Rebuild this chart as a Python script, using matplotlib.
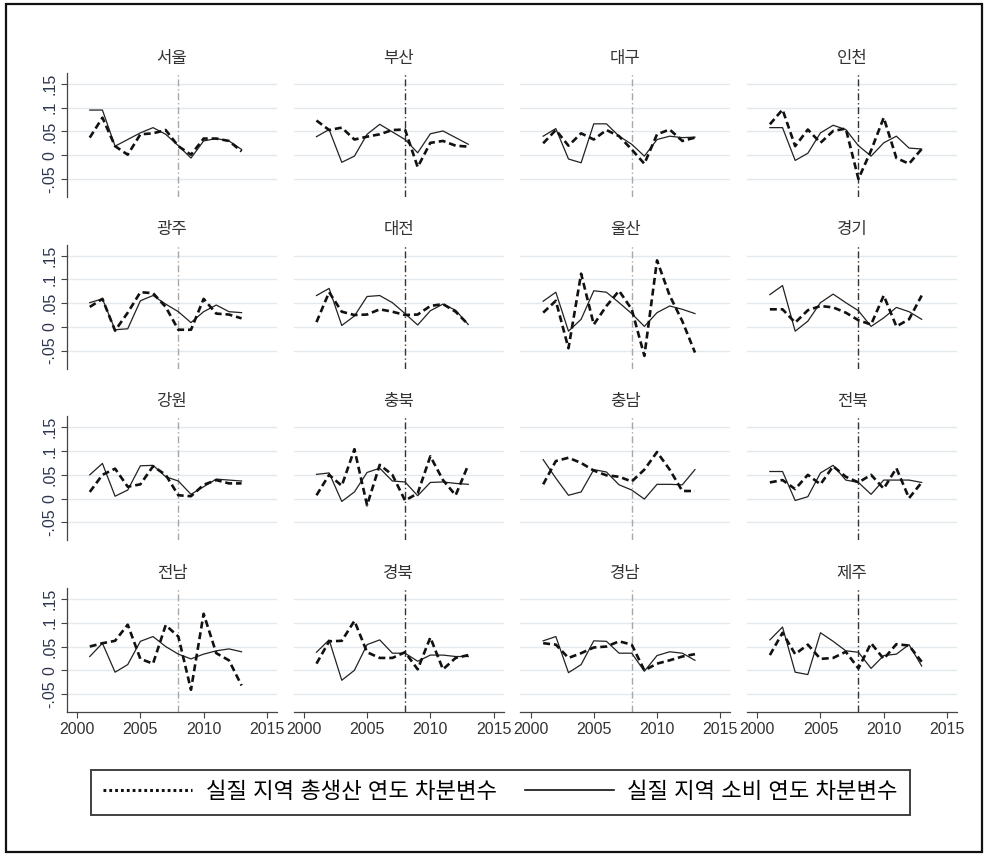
import matplotlib
matplotlib.use("Agg")
import matplotlib.pyplot as plt
from matplotlib.lines import Line2D
from matplotlib.patches import Rectangle

plt.rcParams['font.family'] = ['Liberation Sans', 'Noto Sans CJK KR', 'DejaVu Sans']
plt.rcParams['lines.scale_dashes'] = False

# ---- data: year-on-year differences, 2001-2013 ----
years = list(range(2001, 2014))
regions = ['서울', '부산', '대구', '인천',
           '광주', '대전', '울산', '경기',
           '강원', '충북', '충남', '전북',
           '전남', '경북', '경남', '제주']

# real regional GDP, annual difference (dashed)
gdp_seoul = [0.037, 0.079, 0.019, 0.001, 0.044, 0.046, 0.053, 0.019, 0.001, 0.035, 0.035, 0.030, 0.008]
gdp_busan = [0.073, 0.053, 0.058, 0.033, 0.039, 0.044, 0.053, 0.054, -0.025, 0.026, 0.030, 0.020, 0.018]
gdp_daegu = [0.025, 0.053, 0.020, 0.046, 0.033, 0.053, 0.040, 0.012, -0.018, 0.044, 0.054, 0.030, 0.037]
gdp_incheon = [0.065, 0.096, 0.019, 0.054, 0.026, 0.051, 0.056, -0.050, 0.010, 0.079, -0.006, -0.018, 0.013]
gdp_gwangju = [0.042, 0.059, -0.008, 0.030, 0.073, 0.071, 0.042, -0.006, -0.006, 0.059, 0.028, 0.026, 0.018]
gdp_daejeon = [0.010, 0.073, 0.032, 0.025, 0.026, 0.037, 0.032, 0.025, 0.026, 0.044, 0.048, 0.032, 0.005]
gdp_ulsan = [0.030, 0.055, -0.045, 0.112, 0.005, 0.044, 0.076, 0.037, -0.061, 0.140, 0.066, 0.012, -0.054]
gdp_gyeonggi = [0.037, 0.037, 0.009, 0.035, 0.044, 0.041, 0.030, 0.014, 0.005, 0.066, 0.001, 0.016, 0.066]
gdp_gangwon = [0.014, 0.050, 0.063, 0.025, 0.030, 0.068, 0.050, 0.007, 0.005, 0.029, 0.039, 0.032, 0.032]
gdp_chungbuk = [0.007, 0.050, 0.027, 0.104, -0.014, 0.071, 0.050, -0.004, 0.011, 0.089, 0.039, 0.007, 0.071]
gdp_chungnam = [0.030, 0.079, 0.086, 0.075, 0.059, 0.049, 0.046, 0.036, 0.061, 0.098, 0.061, 0.016, 0.016]
gdp_jeonbuk = [0.034, 0.039, 0.020, 0.050, 0.030, 0.068, 0.046, 0.034, 0.050, 0.021, 0.064, 0.001, 0.034]
gdp_jeonnam = [0.050, 0.057, 0.062, 0.096, 0.024, 0.014, 0.095, 0.071, -0.041, 0.119, 0.036, 0.021, -0.032]
gdp_gyeongbuk = [0.014, 0.061, 0.062, 0.104, 0.038, 0.026, 0.026, 0.038, 0.002, 0.069, 0.002, 0.026, 0.032]
gdp_gyeongnam = [0.057, 0.054, 0.026, 0.036, 0.048, 0.050, 0.061, 0.054, 0.000, 0.014, 0.021, 0.029, 0.034]
gdp_jeju = [0.032, 0.079, 0.034, 0.054, 0.024, 0.026, 0.039, 0.004, 0.057, 0.024, 0.055, 0.052, 0.018]

# real regional consumption, annual difference (solid)
con_seoul = [0.095, 0.095, 0.019, 0.033, 0.047, 0.058, 0.044, 0.020, -0.006, 0.030, 0.035, 0.030, 0.012]
con_busan = [0.039, 0.054, -0.015, -0.002, 0.044, 0.065, 0.049, 0.033, 0.005, 0.045, 0.051, 0.037, 0.023]
con_daegu = [0.040, 0.056, -0.008, -0.016, 0.066, 0.066, 0.040, 0.023, -0.002, 0.033, 0.040, 0.037, 0.038]
con_incheon = [0.058, 0.058, -0.011, 0.004, 0.047, 0.063, 0.054, 0.020, -0.002, 0.026, 0.040, 0.015, 0.013]
con_gwangju = [0.051, 0.059, -0.006, -0.004, 0.055, 0.066, 0.048, 0.032, 0.009, 0.032, 0.046, 0.032, 0.030]
con_daejeon = [0.066, 0.081, 0.003, 0.023, 0.064, 0.066, 0.051, 0.028, 0.004, 0.034, 0.048, 0.035, 0.005]
con_ulsan = [0.054, 0.073, -0.009, 0.016, 0.076, 0.073, 0.051, 0.028, 0.001, 0.030, 0.044, 0.037, 0.028]
con_gyeonggi = [0.068, 0.087, -0.009, 0.012, 0.051, 0.069, 0.051, 0.034, 0.001, 0.019, 0.041, 0.032, 0.016]
con_gangwon = [0.050, 0.074, 0.005, 0.018, 0.069, 0.070, 0.046, 0.037, 0.009, 0.025, 0.041, 0.039, 0.037]
con_chungbuk = [0.051, 0.054, -0.006, 0.014, 0.055, 0.064, 0.037, 0.035, 0.006, 0.034, 0.035, 0.032, 0.030]
con_chungnam = [0.082, 0.043, 0.007, 0.014, 0.061, 0.056, 0.029, 0.018, -0.001, 0.030, 0.030, 0.029, 0.061]
con_jeonbuk = [0.057, 0.057, -0.004, 0.004, 0.054, 0.070, 0.039, 0.034, 0.009, 0.039, 0.039, 0.039, 0.034]
con_jeonnam = [0.029, 0.057, -0.004, 0.012, 0.061, 0.071, 0.050, 0.034, 0.024, 0.034, 0.041, 0.045, 0.039]
con_gyeongbuk = [0.038, 0.064, -0.021, 0.000, 0.054, 0.064, 0.036, 0.036, 0.019, 0.032, 0.032, 0.029, 0.029]
con_gyeongnam = [0.062, 0.071, -0.005, 0.012, 0.062, 0.061, 0.036, 0.036, -0.002, 0.031, 0.039, 0.036, 0.021]
con_jeju = [0.064, 0.091, -0.004, -0.009, 0.079, 0.061, 0.041, 0.038, 0.004, 0.031, 0.034, 0.054, 0.009]

gdp_series = [gdp_seoul, gdp_busan, gdp_daegu, gdp_incheon,
              gdp_gwangju, gdp_daejeon, gdp_ulsan, gdp_gyeonggi,
              gdp_gangwon, gdp_chungbuk, gdp_chungnam, gdp_jeonbuk,
              gdp_jeonnam, gdp_gyeongbuk, gdp_gyeongnam, gdp_jeju]
con_series = [con_seoul, con_busan, con_daegu, con_incheon,
              con_gwangju, con_daejeon, con_ulsan, con_gyeonggi,
              con_gangwon, con_chungbuk, con_chungnam, con_jeonbuk,
              con_jeonnam, con_gyeongbuk, con_gyeongnam, con_jeju]

y_ticks = [-0.05, 0, 0.05, 0.1, 0.15]
y_tick_labels = ['-.05', '0', '.05', '.1', '.15']
x_ticks = [2000, 2005, 2010, 2015]
break_year = 2008

legend_gdp = '실질 지역 총생산 연도 차분변수'
legend_con = '실질 지역 소비 연도 차분변수'

# ---- layout (pixels) ----
W, H = 986, 856
fig = plt.figure(figsize=(W / 100, H / 100), dpi=100)
fig.patch.set_facecolor('white')

panel_w, panel_h = 210, 124
col_pitch, row_pitch = 226.7, 171.7
left0, top0 = 67, 73

grid_color = '#e3e9ec'
label_color = '#2e3550'

for i, name in enumerate(regions):
    r, c = divmod(i, 4)
    left = left0 + c * col_pitch
    top = top0 + r * row_pitch
    ax = fig.add_axes([left / W, 1 - (top + panel_h) / H, panel_w / W, panel_h / H])
    ax.set_xlim(1999.2, 2015.8)
    ax.set_ylim(-0.088, 0.173)
    ax.set_yticks(y_ticks)
    ax.set_xticks(x_ticks)
    ax.grid(axis='y', color=grid_color, linewidth=1.0)
    ax.set_axisbelow(True)
    for s in ['top', 'right']:
        ax.spines[s].set_visible(False)
    ax.spines['left'].set_visible(c == 0)
    ax.spines['bottom'].set_visible(r == 3)
    for s in ['left', 'bottom']:
        ax.spines[s].set_color('#444444')
        ax.spines[s].set_linewidth(0.9)

    if c == 0:
        ax.set_yticklabels(y_tick_labels, rotation=90, va='center',
                           fontsize=11.5, color=label_color)
        ax.tick_params(axis='y', length=4, width=0.8, color='#444444', pad=3)
    else:
        ax.tick_params(axis='y', left=False, labelleft=False)
    if r == 3:
        ax.set_xticklabels([str(t) for t in x_ticks], fontsize=11.5, color='#333333')
        ax.tick_params(axis='x', length=4, width=0.8, color='#444444', pad=3)
    else:
        ax.tick_params(axis='x', bottom=False, labelbottom=False)

    vcolor = '#a8a8a8' if c % 2 == 0 else '#333333'
    ax.axvline(break_year, color=vcolor, linewidth=1.0, dashes=(5, 2, 1, 2))

    ax.plot(years, con_series[i], color='#222222', linewidth=0.9)
    ax.plot(years, gdp_series[i], color='#111111', linewidth=1.9, dashes=(5, 2.8))

    ax.text(0.5, 1 + 15 / panel_h, name, transform=ax.transAxes,
            ha='center', va='center', fontsize=12, color='#333333')

# ---- legend ----
h_gdp = Line2D([], [], color='#111111', linewidth=2.2, dashes=(2, 2.2))
h_con = Line2D([], [], color='#111111', linewidth=1.2)
leg = fig.legend([h_gdp, h_con], [legend_gdp, legend_con],
                 loc='center', ncol=2,
                 bbox_to_anchor=(80 / W, 1 - 822 / H, 841 / W, 59 / H),
                 mode='expand', fontsize=16, handlelength=4.0,
                 handletextpad=0.6, columnspacing=2.0,
                 frameon=True, fancybox=False, borderpad=0.55)
leg.get_frame().set_edgecolor('#111111')
leg.get_frame().set_linewidth(1.4)

# outer frame
fig.patches.append(Rectangle((6 / W, 4 / H), 976 / W, 848 / H,
                             transform=fig.transFigure, fill=False,
                             edgecolor='#111111', linewidth=1.6))

fig.savefig('out.png', dpi=100)
